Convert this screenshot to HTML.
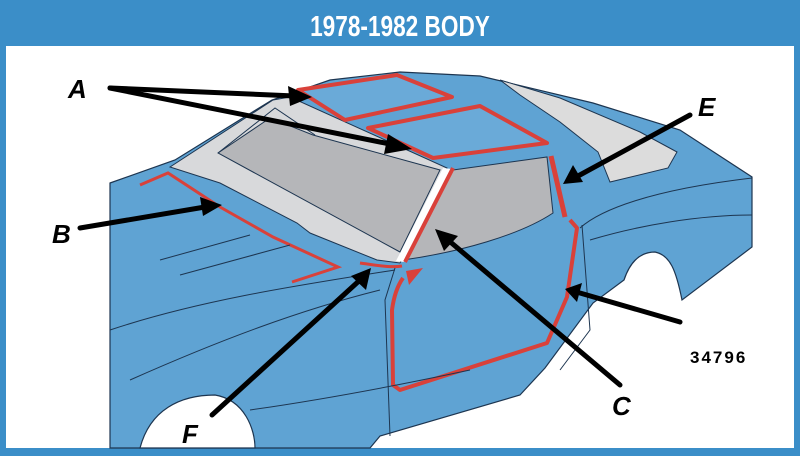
<!DOCTYPE html>
<html><head><meta charset="utf-8"><style>
html,body{margin:0;padding:0;background:#fff}
svg{display:block}
</style></head><body>
<svg width="800" height="456" viewBox="0 0 800 456" xmlns="http://www.w3.org/2000/svg">
<rect x="0" y="0" width="800" height="456" fill="#3b8ec8"/>
<rect x="6" y="46" width="788" height="402" fill="#fff"/>
<text x="400" y="36" text-anchor="middle" font-family="Liberation Sans, sans-serif" font-weight="bold" font-size="29" fill="#fff" transform="translate(400 0) scale(0.78 1) translate(-400 0)">1978-1982 BODY</text>

<!-- car body -->
<path d="M110,183 L175,160 L272,100 L330,80 L400,72 L480,76 L593,103 L680,130 L752,177 L752,247 L682,300 C676,270 670,255 655,252 C640,252 630,262 624,280 L593,303 L545,368 L520,395 L380,436 L370,448 L110,448 Z" fill="#5fa3d3" stroke="#1d3550" stroke-width="1.2"/>
<!-- front wheel arch -->
<path d="M140,448 C150,410 180,395 215,395 C245,400 255,430 255,448 Z" fill="#fff" stroke="#1d3550" stroke-width="1.2"/>
<!-- rear glass -->
<path d="M500,80 L560,98 L640,132 L677,152 L668,168 L610,182 L598,152 L560,122 L520,95 Z" fill="#dcdcdc" stroke="#1d3550" stroke-width="1"/>
<!-- light grey cowl / frame -->
<path d="M170,167 L273,100 L290,97 L447,168 L400,263 L377,260 L310,233 L297,223 L220,183 Z" fill="#d8d9db" stroke="#1d3550" stroke-width="1"/>
<!-- windshield -->
<path d="M218,153 L270,118 L313,135 L440,170 L400,252 Z" fill="#b5b6b9" stroke="#1d3550" stroke-width="1"/>
<path d="M218,153 L275,108 L315,135" fill="none" stroke="#1d3550" stroke-width="1"/>
<!-- side window -->
<path d="M453,170 L547,157 L553,213 C520,235 460,252 403,260 Z" fill="#b5b6b9" stroke="#1d3550" stroke-width="1"/>
<!-- white strip -->
<path d="M443,168 L452,169 L404,262 L396,261 Z" fill="#fff"/>
<!-- T-top panels -->
<path d="M298,90 L397,75 L452,97 L345,120 Z" fill="#6aaad8" stroke="#d9413a" stroke-width="4" stroke-linejoin="round"/>
<path d="M368,128 L480,106 L547,143 L433,158 Z" fill="#6aaad8" stroke="#d9413a" stroke-width="4" stroke-linejoin="round"/>
<!-- red seals -->
<path d="M453,168 L405,262" stroke="#d9413a" stroke-width="4" fill="none"/>
<path d="M551,156 L565,217" stroke="#d9413a" stroke-width="5" fill="none"/>
<path d="M140,185 L168,173 L220,207 L273,237 L338,267 L292,282" stroke="#d9413a" stroke-width="3" fill="none"/>
<path d="M360,263 C375,265 390,268 402,266" stroke="#d9413a" stroke-width="3" fill="none"/>
<path d="M570,220 L577,228 L567,297 L547,343 L400,390 L393,385 L392,310 C394,295 398,285 403,278" stroke="#d9413a" stroke-width="4" fill="none" stroke-linejoin="round"/>
<path d="M406,271 L423,268 L409,285 Z" fill="#d9413a"/>
<!-- body detail lines -->
<g stroke="#1d3550" stroke-width="1" fill="none">
<path d="M110,330 C200,300 300,285 395,270"/>
<path d="M130,380 C220,340 300,310 380,290"/>
<path d="M395,268 L385,300 L390,436"/>
<path d="M580,228 C600,210 650,190 752,178"/>
<path d="M590,240 C640,225 700,215 752,215"/>
<path d="M582,225 L590,330 L560,370"/>
<path d="M160,260 L250,235"/><path d="M180,275 L290,245"/>
<path d="M250,410 C320,400 400,385 470,370"/>
</g>
<!-- arrows -->
<g stroke="#000" stroke-width="5" fill="#000" stroke-linecap="round">
<line x1="110" y1="88" x2="295" y2="96"/>
<line x1="110" y1="88" x2="395" y2="145"/>
<line x1="690" y1="115" x2="578" y2="176"/>
<line x1="80" y1="228" x2="205" y2="207"/>
<line x1="620" y1="385" x2="448" y2="240"/>
<line x1="212" y1="415" x2="360" y2="280"/>
<line x1="680" y1="322" x2="580" y2="293"/>
</g>
<g fill="#000">
<polygon points="312,97 288,86 290,106"/>
<polygon points="412,149 388,134 384,154"/>
<polygon points="563,184 573,165 583,182"/>
<polygon points="222,205 200,197 203,216"/>
<polygon points="435,229 444,251 458,236"/>
<polygon points="371,268 351,276 366,290"/>
<polygon points="565,289 582,283 577,302"/>
</g>
<g font-family="Liberation Sans, sans-serif" font-weight="bold" font-style="italic" font-size="26" fill="#000">
<text x="68" y="98">A</text>
<text x="698" y="116">E</text>
<text x="52" y="243">B</text>
<text x="612" y="415">C</text>
<text x="182" y="443">F</text>
</g>
<text x="690" y="363" font-family="Liberation Sans, sans-serif" font-weight="bold" font-size="17" letter-spacing="2" fill="#000">34796</text>
</svg>
</body></html>
